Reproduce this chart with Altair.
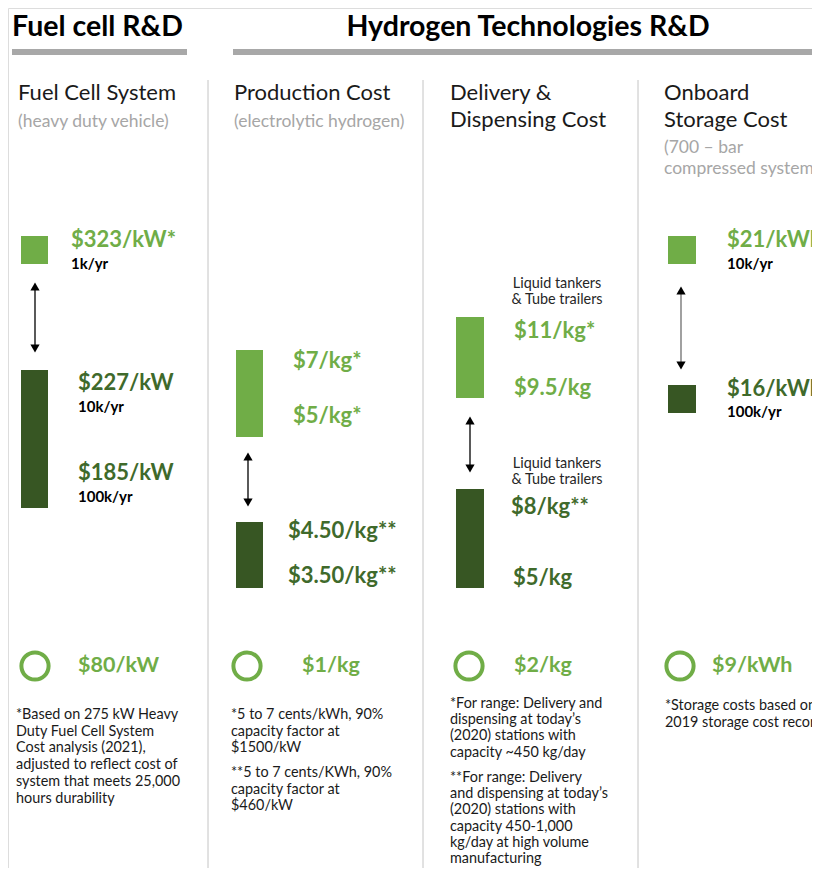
import altair as alt
import pandas as pd

# ---------------- content (values / texts) ----------------
SECTION_TITLES = ["Fuel cell R&D", "Hydrogen Technologies R&D"]
COLUMN_TITLES = [["Fuel Cell System"], ["Production Cost"],
                 ["Delivery &", "Dispensing Cost"], ["Onboard", "Storage Cost"]]
COLUMN_SUBTITLES = [["(heavy duty vehicle)"], ["(electrolytic hydrogen)"], [],
                    ["(700 \u2013 bar", "compressed system)"]]
CURRENT_COST_LABELS = [["$323/kW*"], ["$7/kg*", "$5/kg*"], ["$11/kg*", "$9.5/kg"], ["$21/kWh"]]
PROJECTED_COST_LABELS = [["$227/kW", "$185/kW"], ["$4.50/kg**", "$3.50/kg**"],
                         ["$8/kg**", "$5/kg"], ["$16/kWh"]]
FUEL_CELL_VOLUMES = ["1k/yr", "10k/yr", "100k/yr"]
STORAGE_VOLUMES = ["10k/yr", "100k/yr"]
DELIVERY_MODE = ["Liquid tankers", "& Tube trailers"]
TARGETS = ["$80/kW", "$1/kg", "$2/kg", "$9/kWh"]
FOOTNOTES = [
    [["*Based on 275 kW Heavy", "Duty Fuel Cell System", "Cost analysis (2021),",
      "adjusted to reflect cost of", "system that meets 25,000", "hours durability"]],
    [["*5 to 7 cents/kWh, 90%", "capacity factor at", "$1500/kW"],
     ["**5 to 7 cents/KWh, 90%", "capacity factor at", "$460/kW"]],
    [["*For range: Delivery and", "dispensing at today\u2019s", "(2020) stations with",
      "capacity ~450 kg/day"],
     ["**For range: Delivery", "and dispensing at today\u2019s", "(2020) stations with",
      "capacity 450-1,000", "kg/day at high volume", "manufacturing"]],
    [["*Storage costs based on", "2019 storage cost record"]],
]

# ---------------- layout (pixel positions) ----------------
SECTION_X = [12, 528]
SECTION_ALIGN = ["left", "center"]
SECTION_BAR_X = [(12, 187), (233, 822)]
SEPARATOR_X = [208, 423, 638]
COL_X = [18, 234, 450, 664]
BAR_X = [(21, 48), (236, 263), (456, 484), (668, 696)]
CURRENT_BAR_Y = [(236, 264), (350, 437), (317, 398), (236, 264)]
PROJECTED_BAR_Y = [(370, 508), (522, 588), (489, 588), (385, 413)]
CURRENT_LABEL_POS = [[(71, 240)], [(293, 361), (293, 416)], [(514, 331), (514, 388)], [(727, 240)]]
PROJECTED_LABEL_POS = [[(78, 383), (78, 473)], [(288, 531), (288, 576)],
                       [(511, 507), (513, 578)], [(727, 389)]]
FC_VOL_POS = [(71, 264), (78, 407), (78, 497)]
ST_VOL_POS = [(727, 264), (727, 412)]
MODE_POS = [(557, 284), (557, 464)]
ARROWS = [(35, 282, 353), (248, 452, 507), (470, 416, 473), (681, 286, 370)]
ARROW_LINE = ["#000000", "#000000", "#000000", "#6e6e6e"]
CIRCLE_X = [35, 247, 469, 680]
TARGET_X = [78, 302, 514, 712]
TARGET_Y = 666
NOTE_X = [16, 231, 450, 665]
NOTE_Y = [[715], [715, 773], [704, 778], [706]]
NOTE_STEP = [16.7, 16.7, 16.2, 16.7]

LIGHT = "#70ad47"
DARK = "#375623"
DARK_TEXT = "#3f6a2b"
FONT = "Lato"

W, H = 804, 860


def X(f):
    return alt.X(f, type="quantitative", scale=alt.Scale(domain=[8, 8 + W], nice=False, zero=False), axis=None)


def Y(f):
    return alt.Y(f, type="quantitative",
                 scale=alt.Scale(domain=[8, 8 + H], nice=False, zero=False, reverse=True), axis=None)


def X2(f):
    return alt.X2(f)


def Y2(f):
    return alt.Y2(f)


def text_layer(rows, size, color, weight="normal", align="left"):
    df = pd.DataFrame(rows, columns=["t", "x", "y"])
    return alt.Chart(df).mark_text(font=FONT, fontSize=size, fontWeight=weight, color=color,
                                   align=align, baseline="middle").encode(
        x=X("x"), y=Y("y"), text="t:N")


layers = []

# section titles
for i, t in enumerate(SECTION_TITLES):
    layers.append(text_layer([(t, SECTION_X[i], 27)], 28.5, "#000000", "bold", SECTION_ALIGN[i]))

# section bars
sb = pd.DataFrame([{"x": a, "x2": b, "y": 49, "y2": 55} for a, b in SECTION_BAR_X])
layers.append(alt.Chart(sb).mark_rect(color="#a8a8a8").encode(x=X("x"), x2=X2("x2"), y=Y("y"), y2=Y2("y2")))

# separators
sep = pd.DataFrame([{"x": x, "y": 80, "y2": 876} for x in SEPARATOR_X])
layers.append(alt.Chart(sep).mark_rule(color="#c4c4c4", strokeWidth=1).encode(x=X("x"), y=Y("y"), y2=Y2("y2")))

# column titles / subtitles
ct, cs = [], []
for i in range(4):
    for j, t in enumerate(COLUMN_TITLES[i]):
        ct.append((t, COL_X[i], 93 + 26.5 * j))
    base = 93 + 26.5 * len(COLUMN_TITLES[i]) + 2
    for j, t in enumerate(COLUMN_SUBTITLES[i]):
        cs.append((t, COL_X[i], base + 21 * j))
layers.append(text_layer(ct, 22, "#1a1a1a"))
layers.append(text_layer(cs, 17.5, "#a6a6a6"))

# bars
bars = []
for i in range(4):
    bars.append({"x": BAR_X[i][0], "x2": BAR_X[i][1], "y": CURRENT_BAR_Y[i][0], "y2": CURRENT_BAR_Y[i][1], "c": LIGHT})
    bars.append({"x": BAR_X[i][0], "x2": BAR_X[i][1], "y": PROJECTED_BAR_Y[i][0], "y2": PROJECTED_BAR_Y[i][1], "c": DARK})
layers.append(alt.Chart(pd.DataFrame(bars)).mark_rect().encode(
    x=X("x"), x2=X2("x2"), y=Y("y"), y2=Y2("y2"), color=alt.Color("c:N", scale=None)))

# cost labels
cur, proj = [], []
for i in range(4):
    for t, (x, y) in zip(CURRENT_COST_LABELS[i], CURRENT_LABEL_POS[i]):
        cur.append((t, x, y))
    for t, (x, y) in zip(PROJECTED_COST_LABELS[i], PROJECTED_LABEL_POS[i]):
        proj.append((t, x, y))
layers.append(text_layer(cur, 22, LIGHT, "bold"))
layers.append(text_layer(proj, 22, DARK_TEXT, "bold"))

# volumes
vol = [(t, x, y) for t, (x, y) in zip(FUEL_CELL_VOLUMES, FC_VOL_POS)]
vol += [(t, x, y) for t, (x, y) in zip(STORAGE_VOLUMES, ST_VOL_POS)]
layers.append(text_layer(vol, 15, "#000000", "bold"))

# delivery modes
modes = []
for (x, y) in MODE_POS:
    for j, t in enumerate(DELIVERY_MODE):
        modes.append((t, x, y + 16 * j))
layers.append(text_layer(modes, 14.4, "#262626", "normal", "center"))

# arrows
ar = pd.DataFrame([{"x": x, "y": a + 8, "y2": b - 8, "c": ARROW_LINE[i]} for i, (x, a, b) in enumerate(ARROWS)])
layers.append(alt.Chart(ar).mark_rule(strokeWidth=1.3).encode(
    x=X("x"), y=Y("y"), y2=Y2("y2"), color=alt.Color("c:N", scale=None)))
up = pd.DataFrame([{"x": x, "y": a + 4.5} for x, a, b in ARROWS])
dn = pd.DataFrame([{"x": x, "y": b - 4.5} for x, a, b in ARROWS])
layers.append(alt.Chart(up).mark_point(shape="triangle-up", filled=True, color="#000000", size=85, opacity=1)
              .encode(x=X("x"), y=Y("y")))
layers.append(alt.Chart(dn).mark_point(shape="triangle-down", filled=True, color="#000000", size=85, opacity=1)
              .encode(x=X("x"), y=Y("y")))

# target circles
circ = pd.DataFrame([{"x": x, "y": TARGET_Y} for x in CIRCLE_X])
layers.append(alt.Chart(circ).mark_point(shape="circle", filled=False, color=LIGHT, strokeWidth=4,
                                         size=740, opacity=1).encode(x=X("x"), y=Y("y")))
layers.append(text_layer([(t, x, TARGET_Y) for t, x in zip(TARGETS, TARGET_X)], 21.5, LIGHT, "bold"))

# footnotes
notes = []
for i in range(4):
    for block, y0 in zip(FOOTNOTES[i], NOTE_Y[i]):
        for j, t in enumerate(block):
            notes.append((t, NOTE_X[i], y0 + NOTE_STEP[i] * j))
layers.append(text_layer(notes, 14.4, "#1a1a1a"))

chart = alt.layer(*layers).properties(
    width=W, height=H, padding=0, autosize=alt.AutoSizeParams(type="none")
).configure_view(stroke=None).configure(background="#ffffff")

chart.save("out.html", embed_options={"renderer": "svg", "actions": False})
